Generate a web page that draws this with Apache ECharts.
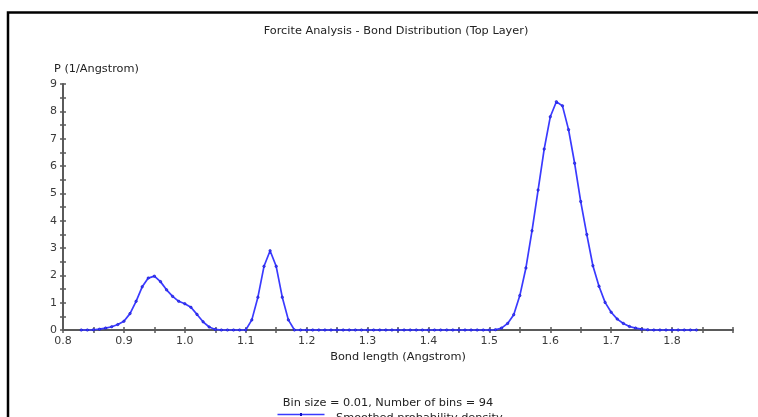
<!DOCTYPE html>
<html>
<head>
<meta charset="utf-8">
<script src="https://cdn.jsdelivr.net/npm/echarts@6/dist/echarts.min.js"></script>
<style>
  html, body { margin: 0; padding: 0; background: #fff; }
  #chart { width: 758px; height: 417px; }
</style>
</head>
<body>
<div id="chart"></div>
<script>
// Bin centres (Angstrom)
var bondLength = [
  0.83, 0.84, 0.85, 0.86, 0.87, 0.88, 0.89, 0.90, 0.91, 0.92,
  0.93, 0.94, 0.95, 0.96, 0.97, 0.98, 0.99, 1.00, 1.01, 1.02,
  1.03, 1.04, 1.05, 1.06, 1.07, 1.08, 1.09, 1.10, 1.11, 1.12,
  1.13, 1.14, 1.15, 1.16, 1.17, 1.18, 1.19, 1.20, 1.21, 1.22,
  1.23, 1.24, 1.25, 1.26, 1.27, 1.28, 1.29, 1.30, 1.31, 1.32,
  1.33, 1.34, 1.35, 1.36, 1.37, 1.38, 1.39, 1.40, 1.41, 1.42,
  1.43, 1.44, 1.45, 1.46, 1.47, 1.48, 1.49, 1.50, 1.51, 1.52,
  1.53, 1.54, 1.55, 1.56, 1.57, 1.58, 1.59, 1.60, 1.61, 1.62,
  1.63, 1.64, 1.65, 1.66, 1.67, 1.68, 1.69, 1.70, 1.71, 1.72,
  1.73, 1.74, 1.75, 1.76, 1.77, 1.78, 1.79, 1.80, 1.81, 1.82,
  1.83, 1.84
];

// Smoothed probability density P (1/Angstrom)
var density = [
  0, 0, 0.01, 0.03, 0.07, 0.12, 0.2, 0.32, 0.6, 1.05,
  1.58, 1.9, 1.97, 1.77, 1.47, 1.23, 1.05, 0.96, 0.83, 0.57,
  0.3, 0.11, 0.02, 0, 0, 0, 0, 0, 0.37, 1.2,
  2.33, 2.9, 2.33, 1.2, 0.37, 0, 0, 0, 0, 0,
  0, 0, 0, 0, 0, 0, 0, 0, 0, 0,
  0, 0, 0, 0, 0, 0, 0, 0, 0, 0,
  0, 0, 0, 0, 0, 0, 0, 0, 0.01, 0.07,
  0.24, 0.56, 1.26, 2.27, 3.63, 5.12, 6.62, 7.8, 8.35, 8.2,
  7.33, 6.1, 4.7, 3.49, 2.35, 1.6, 1.01, 0.65, 0.4, 0.24,
  0.13, 0.07, 0.03, 0.01, 0, 0, 0, 0, 0, 0,
  0, 0
];

var chartTitle = 'Forcite Analysis - Bond Distribution (Top Layer)';
var binNote = 'Bin size = 0.01, Number of bins = 94';
var seriesName = 'Smoothed probability density';
var xName = 'Bond length (Angstrom)';
var yName = 'P (1/Angstrom)';

var font = 'DejaVu Sans';
var axisGray = '#5a5a5a';
var textGray = '#3a3a3a';
var lineBlue = '#3a3aff';

var points = bondLength.map(function (x, i) { return [x, density[i]]; });

function axisBase(extra) {
  var o = {
    type: 'value',
    axisLine: { show: true, onZero: false, lineStyle: { color: axisGray, width: 2 } },
    axisTick: { show: true, length: 3, lineStyle: { color: axisGray, width: 1.5 } },
    minorTick: { show: true, splitNumber: 2, length: 3, lineStyle: { color: axisGray, width: 1.5 } },
    splitLine: { show: false },
    minorSplitLine: { show: false }
  };
  for (var k in extra) o[k] = extra[k];
  return o;
}

var chart = echarts.init(document.getElementById('chart'), null, { renderer: 'canvas' });
chart.setOption({
  backgroundColor: '#fff',
  animation: false,
  title: [
    { text: chartTitle, left: 391, top: 21, textAlign: 'center',
      textStyle: { fontFamily: font, fontSize: 11.3, fontWeight: 'normal', color: '#222' } },
    { text: binNote, left: 383, top: 393, textAlign: 'center',
      textStyle: { fontFamily: font, fontSize: 11.3, fontWeight: 'normal', color: '#222' } }
  ],
  // legend entry: text from the ECharts legend, key line drawn below as a graphic
  legend: {
    left: 275, top: 408, itemWidth: 47, itemHeight: 6, itemGap: 10,
    icon: 'none',
    textStyle: { fontFamily: font, fontSize: 11.3, color: '#222', padding: [0, 0, 0, 4] },
    data: [seriesName]
  },
  graphic: [
    { type: 'rect', left: 5.5, top: 10, shape: { width: 800, height: 500 },
      style: { fill: 'none', stroke: '#000', lineWidth: 2.5 }, silent: true },
    { type: 'group', left: 275, top: 412, silent: true, children: [
      { type: 'line', shape: { x1: 0, y1: 2, x2: 47, y2: 2 },
        style: { stroke: lineBlue, lineWidth: 1.5 } },
      { type: 'rect', shape: { x: 22.5, y: 0.5, width: 2, height: 3 },
        style: { fill: '#1010c0' } }
    ] }
  ],
  grid: { left: 63, right: 25, top: 84, bottom: 87 },
  xAxis: [
    axisBase({
      min: 0.8, max: 1.9, interval: 0.1,
      name: xName, nameLocation: 'middle', nameGap: 21,
      nameTextStyle: { fontFamily: font, fontSize: 11.3, color: '#222' },
      axisLabel: {
        fontFamily: font, fontSize: 11, color: textGray, margin: 6,
        formatter: function (v) { return v > 1.85 ? '' : v.toFixed(1); }
      }
    }),
    axisBase({
      min: 0.8, max: 1.9, interval: 0.1, position: 'bottom',
      axisLine: { show: false },
      axisTick: { show: true, inside: true, length: 3, lineStyle: { color: axisGray, width: 1.5 } },
      minorTick: { show: true, splitNumber: 2, length: 3, lineStyle: { color: axisGray, width: 1.5 } },
      axisLabel: { show: false }
    })
  ],
  yAxis: [
    axisBase({
      min: 0, max: 9, interval: 1,
      name: yName, nameLocation: 'end', nameGap: 9,
      nameTextStyle: { fontFamily: font, fontSize: 11.3, color: '#222', align: 'left', padding: [0, 0, 0, -9] },
      axisLabel: { fontFamily: font, fontSize: 11, color: textGray, margin: 6 }
    }),
    axisBase({
      min: 0, max: 9, interval: 1, position: 'left',
      axisLine: { show: false },
      axisTick: { show: true, inside: true, length: 3, lineStyle: { color: axisGray, width: 1.5 } },
      minorTick: { show: true, splitNumber: 2, length: 3, lineStyle: { color: axisGray, width: 1.5 } },
      axisLabel: { show: false }
    })
  ],
  series: [{
    name: seriesName,
    type: 'line',
    data: points,
    xAxisIndex: 0,
    yAxisIndex: 0,
    smooth: false,
    showSymbol: true,
    symbol: 'circle',
    symbolSize: 2.5,
    lineStyle: { color: lineBlue, width: 1.7 },
    itemStyle: { color: lineBlue, borderColor: '#1010c0', borderWidth: 0.5 },
    clip: false
  }]
});
</script>
</body>
</html>
